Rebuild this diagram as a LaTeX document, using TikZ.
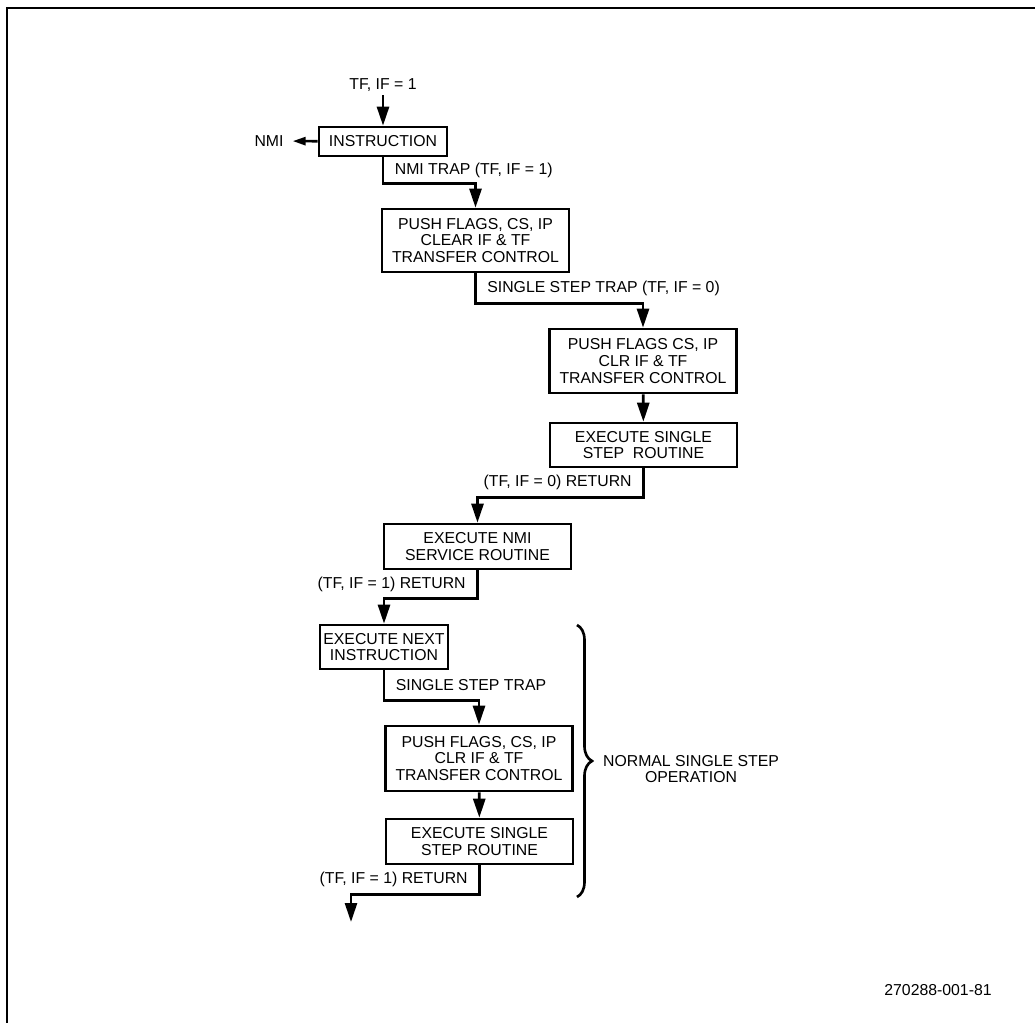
\documentclass[tikz,border=0pt]{standalone}
\usepackage{fontspec}
\setsansfont{Liberation Sans}
\usetikzlibrary{positioning, arrows.meta, calc, decorations.pathreplacing}

\begin{document}
\begin{tikzpicture}[
  x=0.02cm, y=-0.02cm,
  box/.style={draw, line width=1.5pt, minimum width=3.74cm, align=center,
              inner sep=1pt, font=\sffamily\fontsize{9}{9.6}\selectfont},
  smallbox/.style={box, minimum width=2.56cm},
  arr/.style={-{Triangle[length=3.8mm, width=2.4mm]}, line width=1.5pt},
  nmiarr/.style={-{Triangle[length=2.6mm, width=1.6mm]}, line width=1.5pt, shorten >=3pt},
  lbl/.style={font=\sffamily\fontsize{9}{9.6}\selectfont, inner sep=2pt},
  brc/.style={decorate, decoration={brace, amplitude=0.3cm}, line width=1.5pt},
]
\useasboundingbox (0,0) rectangle (1035,1023);

% ===== FRAME =====
\draw[line width=1.4pt] (7,1023) -- (7,8) -- (1035,8);

% ===== ENTRY =====
\node[lbl] (tfin) at (383,85) {TF, IF = 1};
\node[smallbox, minimum height=0.58cm] (b1) at (383,141.5) {INSTRUCTION};
\node[lbl] (nmi) at (269,141) {NMI};

% ===== NMI + SINGLE STEP TRAPS =====
\node[box, minimum height=1.26cm] (b2) at (475.5,240.5) {PUSH FLAGS, CS, IP\\CLEAR IF \& TF\\TRANSFER CONTROL};
\node[box, minimum height=1.28cm] (b3) at (643,361) {PUSH FLAGS CS, IP\\CLR IF \& TF\\TRANSFER CONTROL};
\node[box, minimum height=0.88cm] (b4) at (643.5,445) {EXECUTE SINGLE\\STEP\ \ ROUTINE};
\node[box, minimum height=0.9cm] (b5) at (477.5,546.5) {EXECUTE NMI\\SERVICE ROUTINE};

% ===== NORMAL SINGLE STEP =====
\node[smallbox, minimum height=0.88cm] (b6) at (384,647) {EXECUTE NEXT\\INSTRUCTION};
\node[box, minimum height=1.3cm] (b7) at (479,758.5) {PUSH FLAGS, CS, IP\\CLR IF \& TF\\TRANSFER CONTROL};
\node[box, minimum height=0.9cm] (b8) at (479.5,841.5) {EXECUTE SINGLE\\STEP ROUTINE};
\coordinate (out) at (351,922);

% ===== CONNECTORS =====
\draw[arr] (tfin) -- (b1);
\draw[nmiarr] (b1) -- (nmi);
\draw[arr] (b1.south) -- node[lbl, right=4pt] {NMI TRAP (TF, IF = 1)} ++(0,26) -| (b2.north);
\draw[arr] (b2.south) -- node[lbl, right=4pt] {SINGLE STEP TRAP (TF, IF = 0)} ++(0,30) -| (b3.north);
\draw[arr] (b3) -- (b4);
\draw[arr] (b4.south) -- node[lbl, left=4pt] {(TF, IF = 0) RETURN} ++(0,29) -| (b5.north);
\draw[arr] (b5.south) -- node[lbl, left=4pt] {(TF, IF = 1) RETURN} ++(0,28) -| (b6.north);
\draw[arr] (b6.south) -- node[lbl, right=4pt] {SINGLE STEP TRAP} ++(0,30) -| (b7.north);
\draw[arr] (b7) -- (b8);
\draw[arr] (b8.south) -- node[lbl, left=4pt] {(TF, IF = 1) RETURN} ++(0,29) -| (out);

% ===== BRACE =====
\coordinate (btop) at (577,625);
\coordinate (bbot) at (577,897);
\draw[brc] (btop) -- (bbot);
\node[lbl, align=center] (normal) at (691,769) {NORMAL SINGLE STEP\\OPERATION};

% ===== FIGURE NUMBER =====
\node[lbl] (fignum) at (938,990) {270288-001-81};

\end{tikzpicture}
\end{document}
